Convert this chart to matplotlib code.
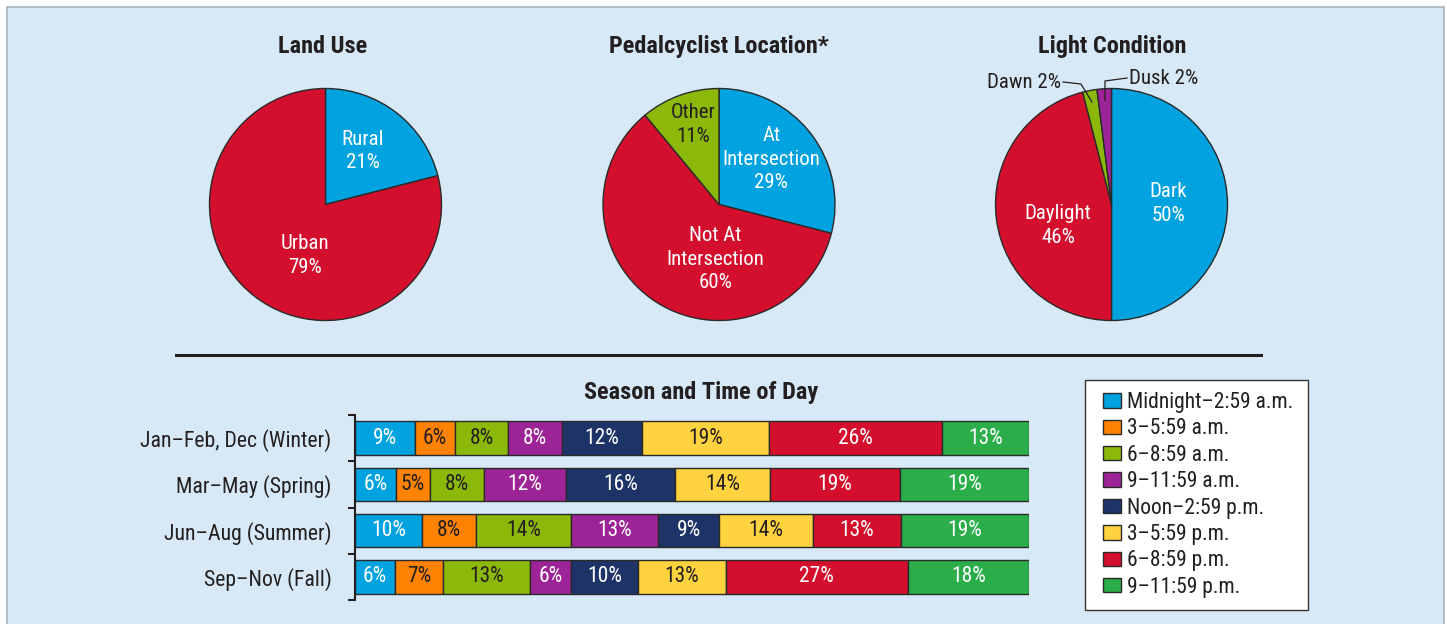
import matplotlib
matplotlib.use("Agg")
import matplotlib.pyplot as plt
from matplotlib import font_manager as fm
from matplotlib.patches import Rectangle
from matplotlib.lines import Line2D
import numpy as np

# ---------------- data ----------------
land_labels = ["Rural", "Urban"]
land_values = [21, 79]

loc_labels = ["At\nIntersection", "Not At\nIntersection", "Other"]
loc_values = [29, 60, 11]

light_labels = ["Dark", "Daylight", "Dawn", "Dusk"]
light_values = [50, 46, 2, 2]

seasons = ["Jan–Feb, Dec (Winter)", "Mar–May (Spring)",
           "Jun–Aug (Summer)", "Sep–Nov (Fall)"]
time_periods = ["Midnight–2:59 a.m.", "3–5:59 a.m.", "6–8:59 a.m.",
                "9–11:59 a.m.", "Noon–2:59 p.m.", "3–5:59 p.m.",
                "6–8:59 p.m.", "9–11:59 p.m."]
winter = [9, 6, 8, 8, 12, 19, 26, 13]
spring = [6, 5, 8, 12, 16, 14, 19, 19]
summer = [10, 8, 14, 13, 9, 14, 13, 19]
fall = [6, 7, 13, 6, 10, 13, 27, 18]

# ---------------- style ----------------
avail = {f.name for f in fm.fontManager.ttflist}
FONT = "DejaVu Sans"
for cand in ["Liberation Sans Narrow", "Roboto Condensed", "Open Sans Condensed",
             "Arial Narrow", "Liberation Sans"]:
    if cand in avail:
        FONT = cand
        break
plt.rcParams['font.family'] = [FONT, 'DejaVu Sans']

BG = "#D7E9F6"
DARK = "#231F20"
EDGE = "#2A2A2A"
BLUE = "#00A3E0"
ORANGE = "#FF8200"
LIME = "#8CB80A"
PURPLE = "#9D2496"
NAVY = "#1E3368"
YELLOW = "#FFD23F"
RED = "#D40F2E"
GREEN = "#2BAE4A"
period_colors = [BLUE, ORANGE, LIME, PURPLE, NAVY, YELLOW, RED, GREEN]
period_text = ["white", DARK, DARK, "white", "white", DARK, "white", "white"]

W, H = 1447, 624
fig = plt.figure(figsize=(W / 100, H / 100), dpi=100, facecolor="white")


def fx(px):
    return px / W


def fy(py):
    return 1 - py / H


def add_axes_px(x0, y0, x1, y1):
    return fig.add_axes([x0 / W, 1 - y1 / H, (x1 - x0) / W, (y1 - y0) / H])


# panel background
fig.patches.append(Rectangle((fx(7), fy(700)), (1444 - 7) / W, (700 - 7) / H,
                             transform=fig.transFigure, facecolor=BG,
                             edgecolor="#A9B4BC", lw=1.2, zorder=-10))

R = 116


def pie_axes(cx, cy):
    half = 1.25 * R
    ax = add_axes_px(cx - half, cy - half, cx + half, cy + half)
    return ax


def draw_pie(ax, values, colors):
    wedges, _ = ax.pie(values, colors=colors, startangle=90, counterclock=False,
                       wedgeprops=dict(edgecolor=EDGE, linewidth=1.0))
    ax.set_xlim(-1.25, 1.25)
    ax.set_ylim(-1.25, 1.25)
    ax.set_aspect("equal")
    ax.axis("off")
    return wedges


LBL = 15
LS = 1.3
TITLE = 17.5

# ---- Land Use ----
ax1 = pie_axes(325.5, 204.5)
draw_pie(ax1, land_values, [BLUE, RED])
land_pos = [(0.32, 0.46), (-0.18, -0.44)]
for lab, v, (x, y) in zip(land_labels, land_values, land_pos):
    ax1.text(x, y, f"{lab}\n{v}%", ha="center", va="center", color="white",
             fontsize=LBL, linespacing=LS)
fig.text(fx(323), fy(53), "Land Use", ha="center", va="baseline",
         fontsize=TITLE, fontweight="bold", color=DARK)

# ---- Pedalcyclist Location ----
ax2 = pie_axes(719, 204.5)
draw_pie(ax2, loc_values, [BLUE, RED, LIME])
loc_pos = [(0.45, 0.39), (-0.03, -0.47), (-0.22, 0.69)]
loc_col = ["white", "white", DARK]
for lab, v, (x, y), c in zip(loc_labels, loc_values, loc_pos, loc_col):
    ax2.text(x, y, f"{lab}\n{v}%", ha="center", va="center", color=c,
             fontsize=LBL, linespacing=LS)
fig.text(fx(719), fy(53), "Pedalcyclist Location*", ha="center", va="baseline",
         fontsize=TITLE, fontweight="bold", color=DARK)

# ---- Light Condition ----
cx3, cy3 = 1111.5, 204.5
ax3 = pie_axes(cx3, cy3)
w3 = draw_pie(ax3, light_values, [BLUE, RED, LIME, PURPLE])
light_pos = [(0.49, 0.01), (-0.46, -0.18)]
for lab, v, (x, y) in zip(light_labels[:2], light_values[:2], light_pos):
    ax3.text(x, y, f"{lab}\n{v}%", ha="center", va="center", color="white",
             fontsize=LBL, linespacing=LS)


def p2d(px, py):
    return ((px - cx3) / R, (cy3 - py) / R)


# small slices with leader lines
for k, (elbow, end, ha) in zip([2, 3], [((1081, 84), (1063, 82), "right"),
                                        ((1105, 81), (1127, 78), "left")]):
    wdg = w3[k]
    th = np.deg2rad((wdg.theta1 + wdg.theta2) / 2)
    start = (0.9 * np.cos(th), 0.9 * np.sin(th))
    e = p2d(*elbow)
    t = p2d(*end)
    ax3.plot([start[0], e[0], t[0]], [start[1], e[1], t[1]], color=DARK, lw=0.9,
             clip_on=False, zorder=5)
    off = -0.02 if ha == "right" else 0.02
    ax3.text(t[0] + off, t[1], f"{light_labels[k]} {light_values[k]}%", ha=ha,
             va="center", color=DARK, fontsize=LBL, clip_on=False)
fig.text(fx(1112), fy(53), "Light Condition", ha="center", va="baseline",
         fontsize=TITLE, fontweight="bold", color=DARK)

# separator
fig.add_artist(Line2D([fx(176), fx(1261)], [fy(354.5), fy(354.5)],
                      transform=fig.transFigure, color=DARK, lw=2.2))

# ---- Season and time of day ----
fig.text(fx(701), fy(399), "Season and Time of Day", ha="center", va="baseline",
         fontsize=TITLE, fontweight="bold", color=DARK)

axb = add_axes_px(355, 415, 1029, 600)
axb.set_facecolor("none")
data = np.array([winter, spring, summer, fall], dtype=float)
shares = data / data.sum(axis=1, keepdims=True) * 100
ypos = np.arange(len(seasons))
left = np.zeros(len(seasons))
for j, period in enumerate(time_periods):
    bars = axb.barh(ypos, shares[:, j], left=left, height=0.72,
                    color=period_colors[j], edgecolor=EDGE, linewidth=1.0,
                    label=period)
    axb.bar_label(bars, labels=[f"{v:g}%" for v in data[:, j]],
                  label_type="center", color=period_text[j], fontsize=15.5)
    left += shares[:, j]

axb.set_xlim(0, 100)
axb.set_ylim(len(seasons) - 0.5, -0.5)
for s in ["top", "right", "bottom"]:
    axb.spines[s].set_visible(False)
axb.spines["left"].set_color(DARK)
axb.spines["left"].set_linewidth(1.5)
axb.set_xticks([])
axb.set_yticks(ypos)
axb.set_yticklabels(seasons, fontsize=15.7, color=DARK)
axb.tick_params(axis="y", which="major", length=0, pad=17)
axb.set_yticks(np.arange(-0.5, len(seasons), 1.0), minor=True)
axb.tick_params(axis="y", which="minor", length=5, width=1.5, color=DARK,
                direction="out")

# legend
fig.patches.append(Rectangle((fx(1085), fy(610)), (1308 - 1085) / W, (610 - 380) / H,
                             transform=fig.transFigure, facecolor="white",
                             edgecolor="#333333", lw=1.0, zorder=1))
handles, labels = axb.get_legend_handles_labels()
leg = fig.legend(handles, labels, loc="upper left",
                 bbox_to_anchor=(fx(1103), fy(392)), frameon=False,
                 borderpad=0, borderaxespad=0, fontsize=15.5,
                 handlelength=18 / 21.5, handleheight=14 / 21.5,
                 handletextpad=0.3, labelspacing=0.25)
for txt in leg.get_texts():
    txt.set_color(DARK)
leg.set_zorder(3)

fig.savefig("out.png", dpi=100, facecolor="white")
